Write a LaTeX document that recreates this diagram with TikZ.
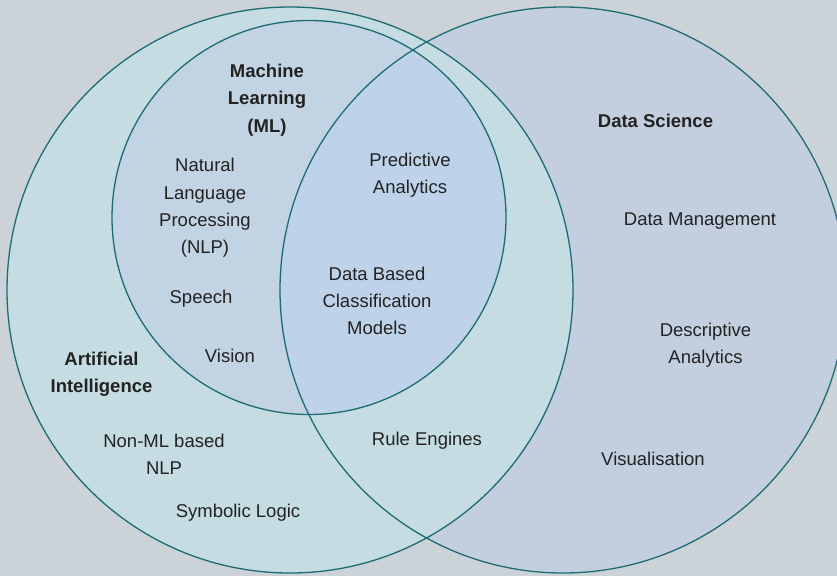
\documentclass[tikz,border=0pt]{standalone}
\usepackage{fontspec}
\setmainfont{Liberation Sans}
\definecolor{bgc}{RGB}{204,211,216}
\definecolor{dsc}{RGB}{195,207,223}
\definecolor{aic}{RGB}{197,221,226}
\definecolor{mlc}{RGB}{194,212,228}
\definecolor{mldsc}{RGB}{190,211,234}
\definecolor{edgec}{RGB}{31,107,114}
\definecolor{txtc}{RGB}{34,34,34}
\tikzset{
  lbl/.style={align=center, text=txtc, inner sep=0pt, font=\fontsize{18.5}{27.3}\selectfont},
  ttl/.style={lbl, font=\fontsize{18.5}{27.3}\selectfont\bfseries},
  ring/.style={draw=edgec, line width=1.3pt}
}
\begin{document}
\begin{tikzpicture}[x=1pt,y=-1pt]
\useasboundingbox (0,0) rectangle (837,576);
\fill[bgc] (0,0) rectangle (837,576);
\coordinate (cds) at (563,290);
\coordinate (cai) at (290,290);
\coordinate (cml) at (309,217.5);
\begin{scope}
\clip (0,0) rectangle (837,576);
\fill[dsc] (cds) circle (283);
\fill[aic] (cai) circle (283);
\fill[mlc] (cml) circle (197);
\begin{scope}
\clip (cds) circle (283);
\fill[mldsc] (cml) circle (197);
\end{scope}
\draw[ring] (cds) circle (283);
\draw[ring] (cai) circle (283);
\draw[ring] (cml) circle (197);
\end{scope}
% titles
\node[ttl] (ml) at (267,100) {Machine\\Learning\\(ML)};
\node[ttl] (ds) at (655.5,121) {Data Science};
\node[ttl] (ai) at (101.5,374.5) {Artificial\\Intelligence};
% labels
\node[lbl] (nlp) at (205,208) {Natural\\Language\\Processing\\(NLP)};
\node[lbl] (speech) at (201,299) {Speech};
\node[lbl] (vision) at (230,356) {Vision};
\node[lbl] (nonml) at (164,454.5) {Non-ML based\\NLP};
\node[lbl] (symb) at (238,513) {Symbolic Logic};
\node[lbl] (pred) at (410,175.5) {Predictive\\Analytics};
\node[lbl] (dbcm) at (377,301) {Data Based\\Classification\\Models};
\node[lbl] (rule) at (427,441) {Rule Engines};
\node[lbl] (dm) at (700,221) {Data Management};
\node[lbl] (desc) at (705.5,345.5) {Descriptive\\Analytics};
\node[lbl] (vis) at (653,459) {Visualisation};
\end{tikzpicture}
\end{document}
